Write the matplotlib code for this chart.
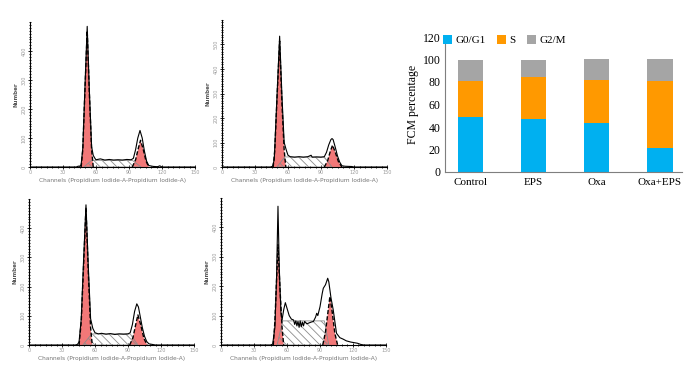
import matplotlib.pyplot as plt
from matplotlib.ticker import MultipleLocator

# ---- stacked bar data (percent) ----
groups = ['Control', 'EPS', 'Oxa', 'Oxa+EPS']
g0g1 = [49.0, 46.7, 43.2, 21.7]
s_phase = [32.0, 37.6, 38.4, 59.0]
g2m = [19.0, 15.7, 18.4, 19.3]

# ---- flow histograms (channel, count) ----
ctrl_env_x = [0, 42, 44, 45, 46.5, 48, 50, 52, 54, 56, 57.5, 59, 60, 64, 68, 72, 76, 80, 84, 88, 92, 94, 96, 98, 100, 102, 104, 106, 108, 112, 116, 118, 120, 150]
ctrl_env_y = [0, 0, 3, 2, 8, 65, 280, 485, 260, 70, 40, 30, 25, 28, 24, 26, 24, 25, 24, 26, 25, 30, 60, 100, 126, 100, 55, 20, 5, 2, 1, 4, 0, 0]
ctrl_g1_x = [46.5, 48, 50, 52, 54, 56, 57.5]
ctrl_g1_y = [0, 60, 270, 470, 250, 60, 0]
ctrl_g2_x = [93, 96, 98.5, 100.5, 103, 105.5, 108]
ctrl_g2_y = [0, 25, 65, 92, 60, 20, 0]
ctrl_s_x = [49, 56, 93, 101]
ctrl_s_y = [0, 23, 23, 0]

eps_env_x = [0, 44, 46, 47.5, 50, 52.4, 54.5, 56.5, 58.5, 60, 62, 66, 70, 74, 78, 81, 82, 86, 90, 93, 95, 97, 99, 100, 101, 103, 105, 107, 109, 112, 118, 120, 150]
eps_env_y = [0, 0, 3, 30, 290, 534, 290, 100, 68, 48, 42, 40, 42, 40, 42, 48, 40, 41, 40, 42, 60, 90, 112, 116, 112, 80, 45, 20, 5, 3, 2, 0, 0]
eps_g1_x = [46.5, 48, 50, 52.4, 54.5, 56.5, 58]
eps_g1_y = [0, 70, 280, 514, 260, 70, 0]
eps_g2_x = [93, 96, 98.5, 100.5, 103, 106, 109]
eps_g2_y = [0, 25, 65, 89, 60, 20, 0]
eps_s_x = [50, 57, 93, 100]
eps_s_y = [0, 41, 41, 0]

oxa_env_x = [0, 42, 44, 45.5, 47.5, 49.5, 51.8, 54, 56, 58, 60, 63, 66, 70, 74, 78, 82, 86, 90, 92, 94, 96, 98, 99.5, 101, 103, 105, 107, 109, 112, 115, 150]
oxa_env_y = [0, 0, 2, 10, 90, 280, 480, 260, 90, 57, 42, 38, 40, 37, 39, 36, 38, 37, 38, 42, 70, 115, 141, 130, 100, 60, 30, 12, 4, 2, 0, 0]
oxa_g1_x = [45.5, 47.5, 49.5, 51.8, 54, 56, 57.5]
oxa_g1_y = [0, 80, 260, 470, 240, 60, 0]
oxa_g2_x = [91.5, 94.5, 97, 99, 101.5, 104.5, 107.5]
oxa_g2_y = [0, 25, 70, 103, 70, 22, 0]
oxa_s_x = [49, 57, 92, 99]
oxa_s_y = [0, 38, 38, 0]

combo_env_x = [0, 45, 47, 49, 50.5, 51.8, 53, 54.5, 55.5, 57, 58.5, 60, 62, 64, 66, 67, 68, 69, 70, 71, 72, 73, 74, 75, 76, 78, 80, 82, 84, 86, 87, 88, 90, 92, 93, 95, 97, 98, 100, 102, 103.5, 105, 108, 111, 114, 118, 121, 124, 127, 130, 150]
combo_env_y = [0, 0, 3, 60, 230, 472, 260, 110, 85, 120, 144, 125, 100, 88, 85, 70, 82, 65, 80, 60, 82, 62, 78, 65, 80, 72, 75, 78, 80, 95, 108, 100, 130, 175, 193, 205, 227, 215, 160, 120, 80, 40, 25, 20, 14, 10, 8, 6, 2, 0, 0]
combo_g1_x = [47.5, 49, 50.5, 51.8, 53.5, 55.5, 57]
combo_g1_y = [0, 80, 220, 341, 200, 60, 0]
combo_g2_x = [92.5, 95, 97.5, 99, 101, 103.5, 106]
combo_g2_y = [0, 45, 120, 165, 115, 40, 0]
combo_s_x = [51, 56, 94, 98]
combo_s_y = [0, 82, 82, 0]

plt.rcParams['hatch.color'] = '#8c8c8c'
plt.rcParams['hatch.linewidth'] = 0.6

fig = plt.figure(figsize=(7, 3.75), dpi=100)
fig.patch.set_facecolor('white')


def draw_hist(rect, env_x, env_y, g1_x, g1_y, g2_x, g2_y, s_x, s_y, ymax):
    ax = fig.add_axes(rect)
    ax.fill(g1_x, g1_y, color='#F27878', lw=0, zorder=2)
    ax.fill(g2_x, g2_y, color='#F27878', lw=0, zorder=2)
    ax.fill(s_x, s_y, facecolor='none', edgecolor='#8c8c8c', hatch='\\\\\\\\', lw=0.6, zorder=3)
    ax.plot(g1_x, g1_y, color='black', lw=1.0, ls=(0, (3, 1.5)), zorder=4)
    ax.plot(g2_x, g2_y, color='black', lw=1.0, ls=(0, (3, 1.5)), zorder=4)
    ax.plot(env_x, env_y, color='black', lw=0.8, zorder=5)
    ax.set_xlim(0, 150)
    ax.set_ylim(0, ymax)
    ax.xaxis.set_major_locator(MultipleLocator(30))
    ax.xaxis.set_minor_locator(MultipleLocator(5))
    ax.yaxis.set_minor_locator(MultipleLocator(10))
    ax.set_yticks([v for v in range(0, ymax, 100)])
    for sp in ['top', 'right']:
        ax.spines[sp].set_visible(False)
    for sp in ['left', 'bottom']:
        ax.spines[sp].set_linewidth(0.8)
    ax.tick_params(which='both', direction='inout', width=0.6, colors='black',
                   labelcolor='#9a9a9a', labelsize=3.5, pad=1)
    ax.tick_params(which='major', length=3)
    ax.tick_params(which='minor', length=2)
    for lab in ax.get_yticklabels():
        lab.set_rotation(90)
        lab.set_va('center')
    ax.set_xlabel('Channels (Propidium Iodide-A-Propidium Iodide-A)', fontsize=4.2,
                  color='#777777', labelpad=1.5)
    ax.set_ylabel('Number', fontsize=4, color='#555555', fontweight='bold', labelpad=2)
    return ax


draw_hist([30 / 700, 1 - 167 / 375, 165 / 700, 145 / 375],
          ctrl_env_x, ctrl_env_y, ctrl_g1_x, ctrl_g1_y, ctrl_g2_x, ctrl_g2_y, ctrl_s_x, ctrl_s_y, 500)
draw_hist([222 / 700, 1 - 167 / 375, 165 / 700, 147 / 375],
          eps_env_x, eps_env_y, eps_g1_x, eps_g1_y, eps_g2_x, eps_g2_y, eps_s_x, eps_s_y, 600)
draw_hist([29 / 700, 1 - 345 / 375, 165 / 700, 146 / 375],
          oxa_env_x, oxa_env_y, oxa_g1_x, oxa_g1_y, oxa_g2_x, oxa_g2_y, oxa_s_x, oxa_s_y, 500)
draw_hist([221 / 700, 1 - 345 / 375, 165 / 700, 147 / 375],
          combo_env_x, combo_env_y, combo_g1_x, combo_g1_y, combo_g2_x, combo_g2_y, combo_s_x, combo_s_y, 500)

# ---- stacked bar chart ----
serif = 'Liberation Serif'
bx = fig.add_axes([445 / 700, 1 - 172 / 375, 237 / 700, 135 / 375])
pos = range(len(groups))
bottom2 = [a + b for a, b in zip(g0g1, s_phase)]
bx.bar(pos, g0g1, width=0.4, color='#00B0F0', label='G0/G1')
bx.bar(pos, s_phase, width=0.4, bottom=g0g1, color='#FF9900', label='S')
bx.bar(pos, g2m, width=0.4, bottom=bottom2, color='#A5A5A5', label='G2/M')
bx.set_xlim(-0.4, 3.35)
bx.set_ylim(0, 120)
bx.set_yticks(range(0, 121, 20))
bx.set_xticks(list(pos))
bx.set_xticklabels(groups)
for sp in ['top', 'right']:
    bx.spines[sp].set_visible(False)
bx.spines['left'].set_color('#7f7f7f')
bx.spines['bottom'].set_color('#7f7f7f')
bx.tick_params(axis='y', length=0, labelsize=8.5, pad=3)
bx.tick_params(axis='x', length=0, labelsize=8, pad=4)
for lab in bx.get_xticklabels() + bx.get_yticklabels():
    lab.set_family(serif)
bx.set_ylabel('FCM percentage', fontsize=8.5, family=serif, labelpad=3)
bx.legend(loc='center left', bbox_to_anchor=(-0.01, 0.975), ncol=3, frameon=False,
          prop={'family': serif, 'size': 8}, handlelength=0.8, handleheight=0.8,
          handletextpad=0.35, columnspacing=1.0, borderpad=0, borderaxespad=0)

fig.savefig('out.png', dpi=100, facecolor='white')
